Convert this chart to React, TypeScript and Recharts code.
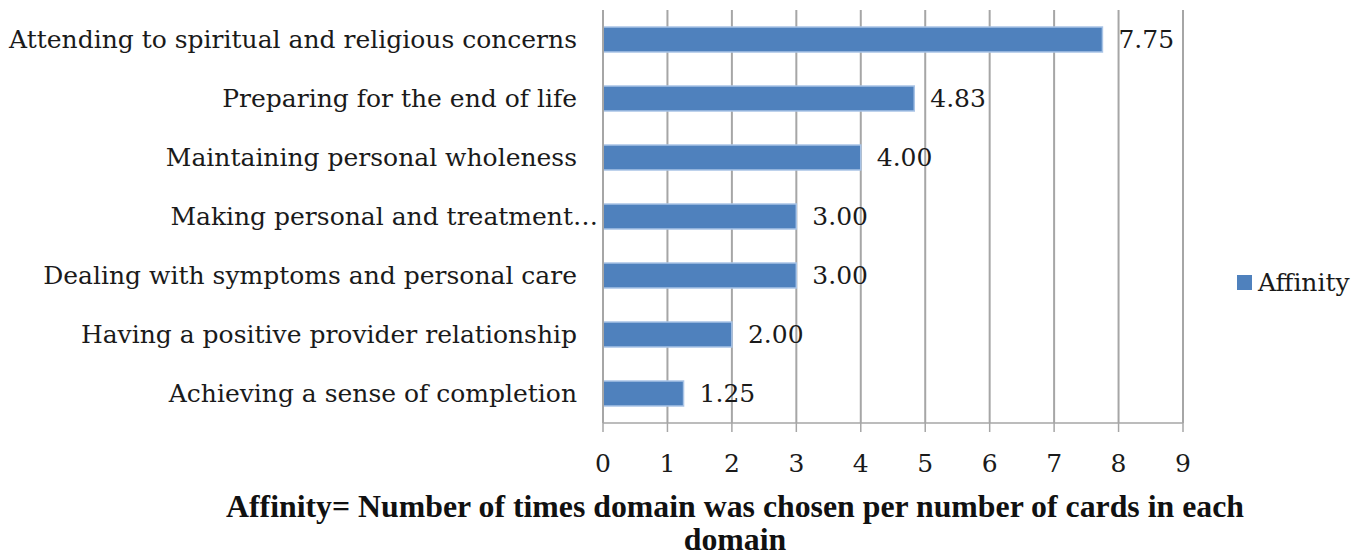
import React from "react";
import { BarChart, Bar, XAxis, YAxis, CartesianGrid, LabelList, Legend, Label } from "recharts";

const categories = [
  "Attending to spiritual and religious concerns",
  "Preparing for the end of life",
  "Maintaining personal wholeness",
  "Making personal and treatment…",
  "Dealing with symptoms and personal care",
  "Having a positive provider relationship",
  "Achieving a sense of completion",
];
const affinity = [7.75, 4.83, 4.0, 3.0, 3.0, 2.0, 1.25];
const xTicks = [0, 1, 2, 3, 4, 5, 6, 7, 8, 9];
const seriesName = "Affinity";
const titleLines = [
  "Affinity= Number of times domain was chosen per number of cards in each",
  "domain",
];

const data = categories.map((c, i) => ({ name: c, value: affinity[i] }));

const FONT = "'DejaVu Serif', serif";
const TFONT = "'Liberation Serif', serif";
const BAR = "#4F81BD";
const GRID = "#a6a6a6";

const CatTick = (props: any) => {
  const { x, y, payload } = props;
  const long = String(payload.value).endsWith("…");
  return (
    <text x={x + (long ? 21 : 0)} y={y} dy="0.35em" textAnchor="end" fontFamily={FONT} fontSize={25} fill="#1a1a1a">
      {payload.value}
    </text>
  );
};

const LegendContent = () => (
  <div style={{ display: "flex", alignItems: "center", fontFamily: FONT, fontSize: 25, color: "#1a1a1a" }}>
    <span style={{ display: "inline-block", width: 15, height: 15, background: BAR, marginRight: 6 }} />
    {seriesName}
  </div>
);

const TitleContent = (props: any) => {
  const { viewBox } = props;
  const y0 = viewBox.y;
  return (
    <text x={735} y={y0 + 94} textAnchor="middle" fontFamily={TFONT} fontWeight="bold" fontSize={31.8} fill="#111">
      <tspan x={735} dy={0}>{titleLines[0]}</tspan>
      <tspan x={735} dy={33}>{titleLines[1]}</tspan>
    </text>
  );
};

export default function App() {
  return (
    <div style={{ position: "absolute", left: 0, top: 0, width: 1371, height: 556, background: "#fff" }}>
      <BarChart
        width={1371}
        height={556}
        data={data}
        layout="vertical"
        margin={{ top: 10, right: 58, bottom: 0, left: 0 }}
      >
        <CartesianGrid horizontal={false} vertical={true} stroke={GRID} strokeWidth={2} />
        <XAxis
          type="number"
          domain={[0, 9]}
          ticks={xTicks}
          interval={0}
          height={133}
          tickSize={9}
          tickMargin={22}
          stroke={GRID}
          strokeWidth={1.5}
          tick={{ fontFamily: FONT, fontSize: 25, fill: "#1a1a1a" }}
        >
          <Label content={<TitleContent />} />
        </XAxis>
        <YAxis
          type="category"
          dataKey="name"
          width={603}
          tickLine={false}
          tickSize={0}
          tickMargin={26}
          stroke={GRID}
          strokeWidth={2}
          tick={<CatTick />}
          interval={0}
        />
        <Legend
          layout="vertical"
          align="right"
          verticalAlign="middle"
          content={<LegendContent />}
          wrapperStyle={{ width: 130, left: 1237, top: 268 }}
        />
        <Bar dataKey="value" name={seriesName} fill={BAR} stroke="#a9c4e6" strokeWidth={1.5} barSize={25} isAnimationActive={false}>
          <LabelList
            dataKey="value"
            position="right"
            offset={16}
            formatter={(v: any) => Number(v).toFixed(2)}
            style={{ fontFamily: FONT, fontSize: 25, fill: "#1a1a1a" }}
          />
        </Bar>
      </BarChart>
    </div>
  );
}
